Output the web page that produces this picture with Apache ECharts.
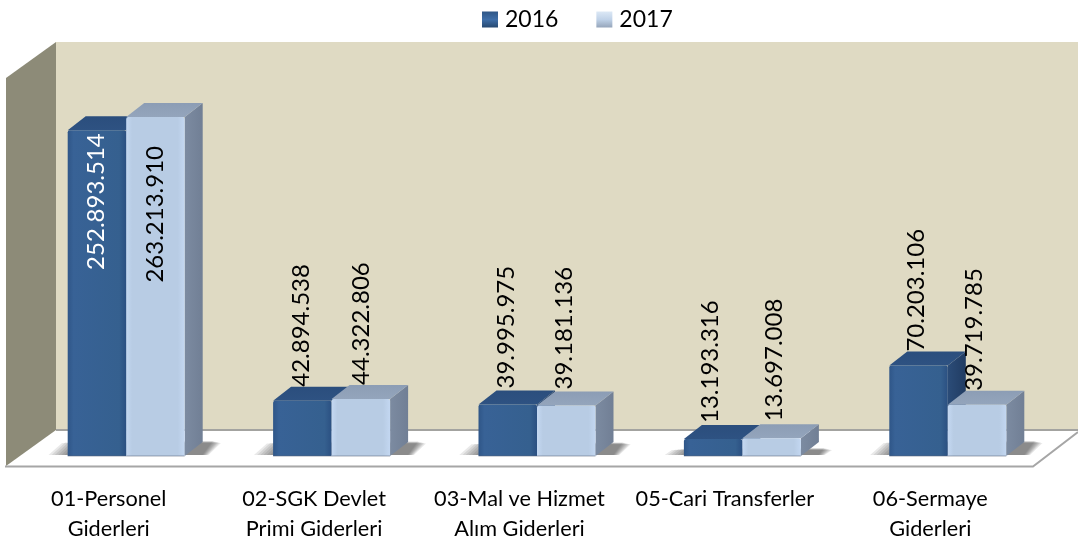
<!DOCTYPE html>
<html><head><meta charset="utf-8">
<style>html,body{margin:0;padding:0;background:#fff}#c{width:1078px;height:542px}</style>
<script src="https://cdn.jsdelivr.net/npm/echarts@6/dist/echarts.min.js"></script>
</head><body><div id="c"></div>
<script>
const categories = ['01-Personel\nGiderleri','02-SGK Devlet\nPrimi Giderleri','03-Mal ve Hizmet\nAlım Giderleri','05-Cari Transferler\n ','06-Sermaye\nGiderleri'];
const values2016 = [252893514, 42894538, 39995975, 13193316, 70203106];
const values2017 = [263213910, 44322806, 39181136, 13697008, 39719785];
const seriesNames = ['2016','2017'];

const font = 'Lato';
const depthX = 18, depthY = 14, barW = 58.5, barShift = 17.5;
const palette = [
  {front:['#2F5688','#386296','#35608F','#2B5082'], top:['#2B4E7D','#2E5282'], side:['#2B4C78','#213C62'], label:'#fff'},
  {front:['#C4D8F2','#B8CCE4','#B8CCE4','#C3D7F1'], top:['#8C9DB5','#94A5BC'], side:['#7C8BA1','#717F95'], label:'#000'}
];
// hand placement of the value labels, [dx, dy] from the default spot
const labelNudge = [
  [[-1,0],[-1,0],[-1,-2],[-3,-2],[-2,0]],
  [[ 0,0],[ 0,0],[-2,-2],[ 3,-3],[-3,0]]
];
const fmt = v => String(v).replace(/\B(?=(\d{3})+$)/g,'.');
const lg = (stops, x2, y2) => new echarts.graphic.LinearGradient(0,0,x2,y2,
  stops.map((c,i)=>({offset: stops.length===4 ? [0,.1,.88,1][i] : i/(stops.length-1), color:c})));

function barRender(si){
  return (params, api) => {
    const i = api.value(0), v = api.value(1);
    const base = api.coord([i,0]), top = api.coord([i,v]);
    const x0 = base[0] + barShift + (si-1)*barW, x1 = x0 + barW, y0 = base[1], y1 = top[1];
    const p = palette[si];
    const inside = i === 0;
    const nudge = labelNudge[si][i];
    const labelCx = (x0+x1)/2 + nudge[0];
    const labelEdge = (inside ? (si === 0 ? y1 + 3 : y1 + 29) : y1 - depthY) + nudge[1];
    return {type:'group', children:[
      {type:'polygon', shape:{points:[[x1,y1],[x1+depthX,y1-depthY],[x1+depthX,y0-depthY],[x1,y0]]},
        style:{fill:lg(p.side,1,0)}},
      {type:'polygon', shape:{points:[[x0,y1],[x0+depthX,y1-depthY],[x1+depthX,y1-depthY],[x1,y1]]},
        style:{fill:lg(p.top,0,1), lineJoin:'round'}},
      {type:'rect', shape:{x:x0,y:y1,width:barW,height:y0-y1,r:[2,2,0,0]},
        style:{fill:lg(p.front,1,0)}},
      {type:'line', shape:{x1:x0,y1:y0,x2:x1,y2:y0}, style:{stroke:'rgba(90,100,120,.55)',lineWidth:1}},
      {type:'text', x:labelCx, y:labelEdge, rotation:Math.PI/2, z2:50,
        style:{text:fmt(v), font:'24px '+font, fill:inside ? p.label : '#000', align:inside?'right':'left', verticalAlign:'middle'}}
    ]};
  };
}
function shadowRender(params, api){
  const i = api.value(0), v = api.value(1);
  const b = api.coord([i,0]);
  const x0 = b[0] + barShift - barW, x1 = b[0] + barShift + barW + depthX;
  const h = Math.min(15, 5 + (b[1]-api.coord([i,v])[1])/6);
  const fade = [];
  for (let k = 0; k < 7; k++){
    const g = (6-k)*3.2;
    fade.push({type:'polygon', shape:{points:[
      [x0-g, b[1]-1],[x0-g+h*.9, b[1]-h+g*.1],[x1+h*.7+g*.4, b[1]-h+g*.1],[x1+g*.3, b[1]-1]
    ]}, style:{fill:'rgba(35,35,35,.10)'}});
  }
  return {type:'group', children:fade};
}
const mkData = arr => arr.map((v,i)=>[i,v]);
const peak = values2016.map((v,i)=>Math.max(v,values2017[i]));

const option = {
  animation:false,
  backgroundColor:'#fff',
  legend:{top:3,left:477,itemWidth:16,itemHeight:16,itemGap:38,icon:'rect',selectedMode:false,
    textStyle:{fontFamily:font,fontSize:23,color:'#000',padding:[0,0,0,2]},
    data:[
      {name:seriesNames[0],itemStyle:{color:new echarts.graphic.LinearGradient(0,0,0,1,[{offset:0,color:'#2F5686'},{offset:.5,color:'#3F6EA8'},{offset:1,color:'#264870'}])}},
      {name:seriesNames[1],itemStyle:{color:new echarts.graphic.LinearGradient(0,0,0,1,[{offset:0,color:'#DCE8F5'},{offset:.5,color:'#C0D2E8'},{offset:1,color:'#95A5BA'}])}}
    ]},
  grid:{left:6,right:45,top:69.6,bottom:86,containLabel:false,outerBoundsMode:'none'},
  xAxis:{type:'category',data:categories,boundaryGap:true,axisLine:{show:false},axisTick:{show:false},splitLine:{show:false},
    axisLabel:{interval:0,margin:28,fontFamily:font,fontSize:21.7,lineHeight:30,color:'#000',verticalAlign:'top',hideOverlap:false}},
  yAxis:{type:'value',min:0,max:300000000,interval:50000000,show:false},
  graphic:{elements:[
    {type:'polygon',z:-5,shape:{points:[[56,42],[1078,42],[1078,431],[56,431]]},style:{fill:'#DFDAC3'}},
    {type:'polygon',z:-4,shape:{points:[[6,78],[56,42],[56,431],[6,467]]},style:{fill:'#8D8B78'}},
    {type:'polygon',z:-3,shape:{points:[[56,430],[1078,430],[1078,431],[1032,466],[6,466]]},style:{fill:'#fff'}},
    {type:'line',z:-2,shape:{x1:56,y1:430,x2:1078,y2:430},style:{stroke:'#A3A3A0',lineWidth:2}},
    {type:'polyline',z:-2,shape:{points:[[5,466.5],[1033,466.5],[1078,432]]},style:{stroke:'#A6A6A6',lineWidth:2,fill:'none'}}
  ]},
  series:[
    {name:'shadow',type:'custom',z:1,silent:true,renderItem:shadowRender,data:mkData(peak),encode:{x:0,y:1}},
    {name:seriesNames[0],type:'custom',z:2,renderItem:barRender(0),data:mkData(values2016),encode:{x:0,y:1},itemStyle:{color:'#35608F'}},
    {name:seriesNames[1],type:'custom',z:3,renderItem:barRender(1),data:mkData(values2017),encode:{x:0,y:1},itemStyle:{color:'#B8CCE4'}}
  ]
};
echarts.init(document.getElementById('c'),null,{renderer:'canvas'}).setOption(option);
</script></body></html>
